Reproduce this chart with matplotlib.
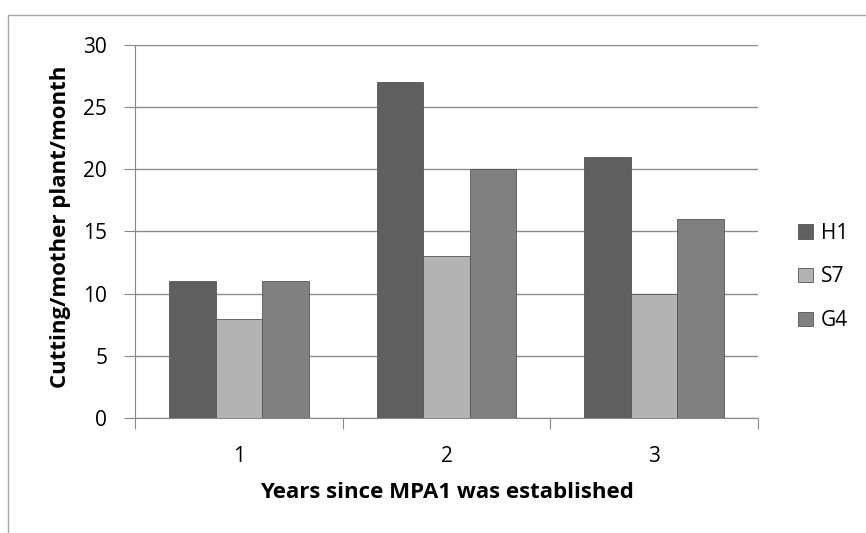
import numpy as np
import matplotlib.pyplot as plt
from matplotlib.lines import Line2D

plt.rcParams['font.family'] = ['Open Sans', 'DejaVu Sans']

years = ['1', '2', '3']
series = ['H1', 'S7', 'G4']
h1 = [11, 27, 21]
s7 = [8, 13, 10]
g4 = [11, 20, 16]
colors = ['#5f5f5f', '#b3b3b3', '#808080']

fig = plt.figure(figsize=(8.66, 5.33), dpi=100)
ax = fig.add_axes([0.1559, 0.2158, 0.7194, 0.6998])

x = np.arange(len(years))
w = 0.224
for i, (name, vals) in enumerate(zip(series, [h1, s7, g4])):
    ax.bar(x + (i - 1) * w, vals, width=w, color=colors[i], edgecolor='#555555',
           linewidth=0.6, label=name, zorder=3)

ax.set_xlim(-0.5, 2.5)
ax.set_ylim(0, 30)
ax.set_yticks(range(0, 31, 5))
ax.yaxis.grid(True, color='#8c8c8c', linewidth=1.0, zorder=0)

# category boundary ticks, labels centred between them
ax.set_xticks([-0.5, 0.5, 1.5, 2.5])
ax.set_xticklabels([])
ax.set_xticks(x, minor=True)
ax.set_xticklabels(years, minor=True)
ax.tick_params(axis='x', which='major', length=8, color='#888888', direction='out')
ax.tick_params(axis='x', which='minor', length=0, pad=20, labelsize=15)
ax.tick_params(axis='y', length=8, color='#888888', labelsize=15, pad=12)

for s in ['top', 'right']:
    ax.spines[s].set_visible(False)
for s in ['left', 'bottom']:
    ax.spines[s].set_color('#888888')

ax.set_ylabel('Cutting/mother plant/month', fontsize=16, fontweight='bold', va='center')
ax.yaxis.set_label_coords(-0.12, 0.512)
ax.set_xlabel('Years since MPA1 was established', fontsize=16, fontweight='bold', va='center')
ax.xaxis.set_label_coords(0.5, -0.2)

ax.legend(loc='center left', bbox_to_anchor=(1.034, 0.378), frameon=False, fontsize=15,
          handlelength=0.7, handleheight=0.7, handletextpad=0.4, labelspacing=1.1)

# outer chart border
fig.add_artist(Line2D([8 / 866, 8 / 866, 1.0], [0.0, 1 - 15 / 533, 1 - 15 / 533],
                      transform=fig.transFigure, color='#a6a6a6', linewidth=1.0))

fig.savefig('out.png', dpi=100)
